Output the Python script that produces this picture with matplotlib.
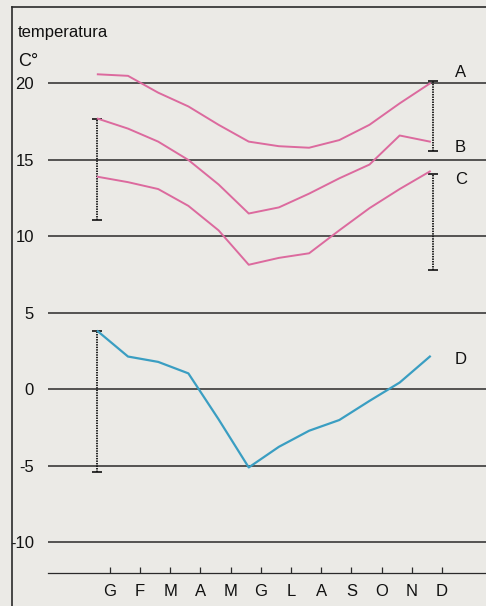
import numpy as np
import matplotlib.pyplot as plt
from matplotlib.lines import Line2D

plt.rcParams['font.family'] = ['Liberation Sans', 'DejaVu Sans']

months = ["G", "F", "M", "A", "M", "G", "L", "A", "S", "O", "N", "D"]

# monthly temperatures (C°)
temp_a = [20.6, 20.5, 19.4, 18.5, 17.3, 16.2, 15.9, 15.8, 16.3, 17.3, 18.7, 20.0]
temp_b = [17.7, 17.05, 16.2, 15.0, 13.4, 11.5, 11.9, 12.8, 13.8, 14.7, 16.6, 16.2]
temp_c = [13.9, 13.55, 13.1, 12.0, 10.4, 8.15, 8.6, 8.9, 10.4, 11.85, 13.1, 14.25]
temp_d = [3.8, 2.15, 1.8, 1.05, -1.95, -5.1, -3.75, -2.7, -2.0, -0.75, 0.45, 2.15]

# annual ranges drawn as dotted bars
range_left = [(11.1, 17.7), (-5.4, 3.8)]
range_right = [(15.6, 20.15), (7.8, 14.1)]

y_ticks = [20, 15, 10, 5, 0, -5, -10]
y_labels = ["20", "15", "10", "5", "0", "-5", "-10"]

paper = '#ebeae6'
pink = '#dc6a9e'
blue = '#3a9ec2'
ink = '#2a2a2a'

fig = plt.figure(figsize=(4.86, 6.06), dpi=100, facecolor=paper)
ax = fig.add_axes([48/486, 33/606, 1 - 48/486, (573 - 7)/606])
ax.set_facecolor(paper)

x = np.arange(len(months)) - 0.4

for y_g in y_ticks:
    ax.axhline(y_g, color=ink, lw=1.1, zorder=1)

ax.plot(x, temp_a, color=pink, lw=1.4, zorder=3)
ax.plot(x, temp_b, color=pink, lw=1.4, zorder=3)
ax.plot(x, temp_c, color=pink, lw=1.4, zorder=3)
ax.plot(x, temp_d, color=blue, lw=1.6, zorder=3)

# range bars: dotted stems with short caps
for xb, ranges in [(-0.43, range_left), (10.72, range_right)]:
    for lo, hi in ranges:
        ax.vlines(xb, lo, hi, colors='#111111', linestyles=(0, (0.8, 0.6)),
                  lw=1.3, zorder=2)
        ax.plot([xb, xb], [lo, hi], ls='none', marker='_', ms=7, mew=1.2,
                color='#111111', zorder=2)

for lab, yv in zip(["A", "B", "C", "D"], [20.75, 15.8, 13.75, 1.95]):
    ax.text(11.62, yv, lab, fontsize=12, ha='center', va='center', color='#111111')

ax.set_xlim(-2.05, 12.46)
ax.set_ylim(-12, 25)

ax.set_xticks(range(len(months)))
ax.set_xticklabels(months, fontsize=12, color='#111111')
ax.tick_params(axis='x', direction='in', length=4, width=0.9, color=ink, pad=8)

ax.set_yticks(y_ticks)
ax.set_yticklabels(y_labels, fontsize=12, color='#111111')
ax.tick_params(axis='y', length=0, pad=10)

for side in ['top', 'right', 'left']:
    ax.spines[side].set_visible(False)
ax.spines['bottom'].set_color(ink)
ax.spines['bottom'].set_linewidth(0.9)

fig.text(18/486, 1 - 33/606, "temperatura", fontsize=12, ha='left', va='center',
         color='#111111')
fig.text(18/486, 1 - 62/606, "C°", fontsize=13, ha='left', va='center',
         color='#111111')

# page frame
fig.add_artist(Line2D([12/486, 1], [1 - 7/606, 1 - 7/606], color=ink, lw=1.2))
fig.add_artist(Line2D([12/486, 12/486], [0, 1 - 7/606], color=ink, lw=1.2))

fig.savefig("out.png", dpi=100, facecolor=paper)
